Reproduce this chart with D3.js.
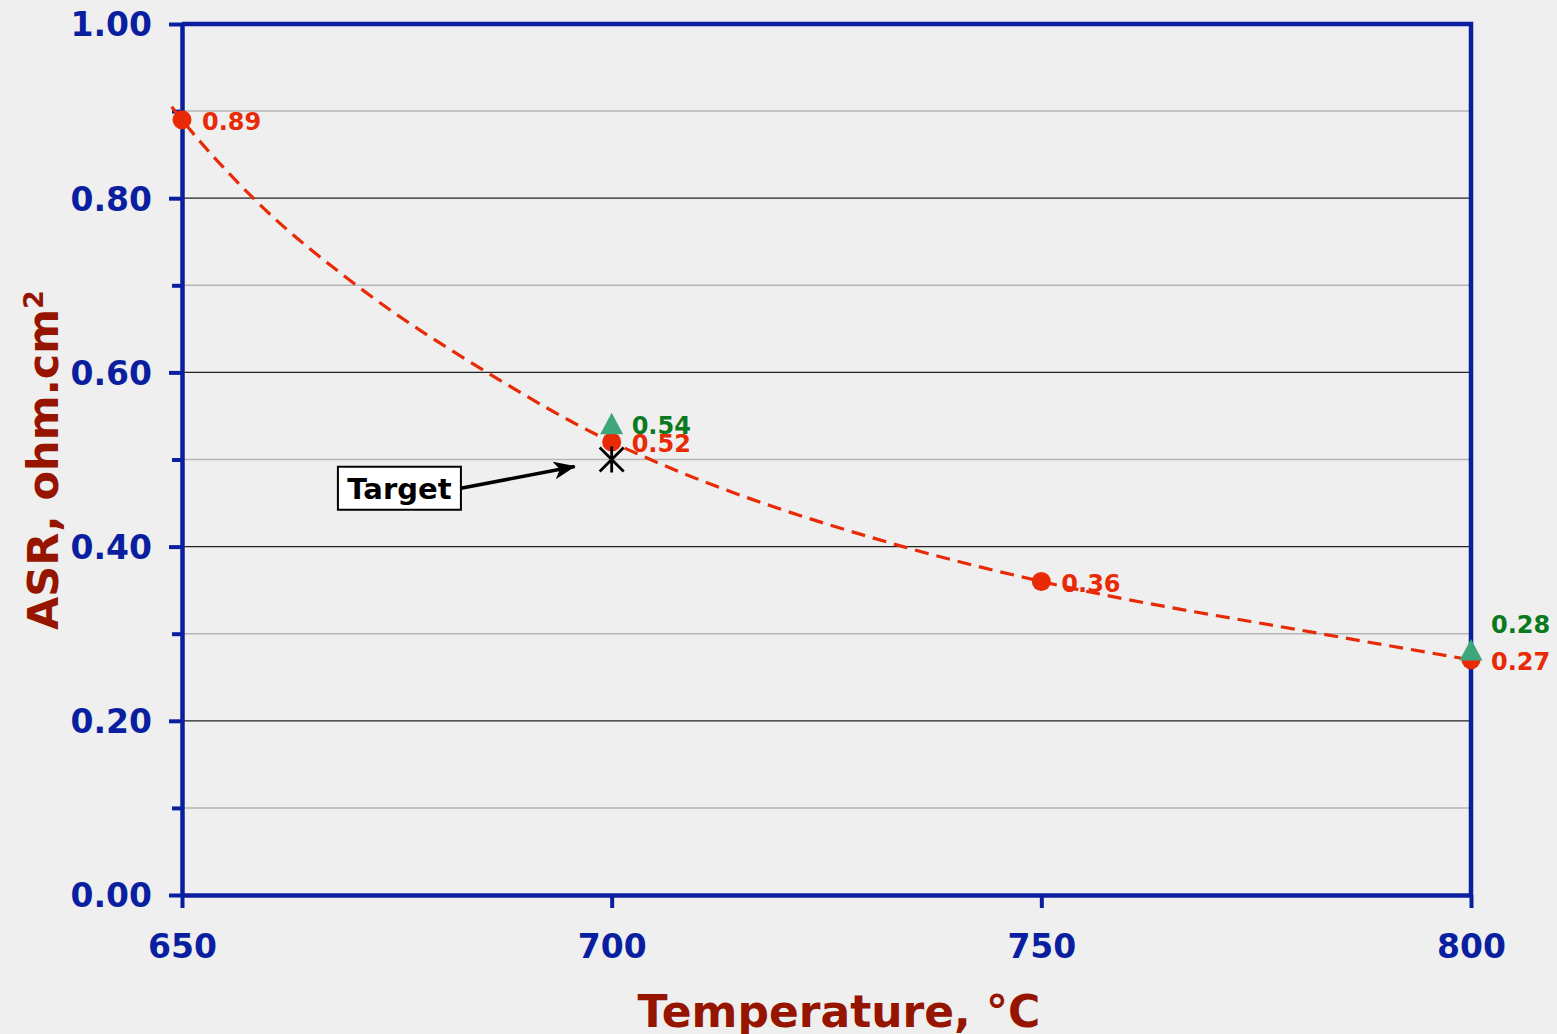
<!DOCTYPE html>
<html>
<head>
<meta charset="utf-8">
<script src="https://cdn.jsdelivr.net/npm/d3@7"></script>
<style>
  html, body { margin: 0; padding: 0; background: #efefef; }
  svg { display: block; font-family: "DejaVu Sans", Verdana, sans-serif; font-weight: bold; }
</style>
</head>
<body>
<svg id="chart" width="1557" height="1034"></svg>
<script>
// Measured cell ASR versus operating temperature
const temperatures = [650, 700, 750, 800];
const asrCell = [0.89, 0.52, 0.36, 0.27];

// Second data set (triangles)
const temperaturesAlt = [700, 800];
const asrAlt = [0.54, 0.28];

// Target value
const targetTemp = 700;
const targetAsr = 0.50;

// Fitted trend curve (dashed)
const trendTemps = [648.8, 650, 658.3, 670.3, 685.5, 700, 704.5, 733.9, 750, 782.5, 800];
const trendAsr = [0.905, 0.89, 0.80, 0.70, 0.60, 0.52, 0.50, 0.40, 0.36, 0.30, 0.27];

// Axis ticks
const xTicks = [650, 700, 750, 800];
const yMajorTicks = [0.0, 0.2, 0.4, 0.6, 0.8, 1.0];
const yMinorTicks = [0.1, 0.3, 0.5, 0.7, 0.9];

// Annotation callout, in data units
const targetNote = { text: "Target", labelT: 675.3, labelAsr: 0.467, tipT: 695.7, tipAsr: 0.492 };

const C = {
  axis: "#0a1fa0",
  title: "#961500",
  red: "#e82a06",
  green: "#0b7a1e",
  tri: "#3ea67b",
  majorGrid: "#222",
  minorGrid: "#b4b4b4"
};

const svg = d3.select("#chart");
const plot = { left: 182, right: 1471, top: 24, bottom: 895 };

const x = d3.scaleLinear().domain([650, 800]).range([plot.left, plot.right]);
const y = d3.scaleLinear().domain([0, 1]).range([plot.bottom, plot.top]);

svg.append("rect").attr("width", 1557).attr("height", 1034).attr("fill", "#efefef");

// gridlines
const grid = svg.append("g");
grid.selectAll("line.minor").data(yMinorTicks).join("line")
  .attr("class", "minor")
  .attr("x1", plot.left).attr("x2", plot.right)
  .attr("y1", d => y(d)).attr("y2", d => y(d))
  .attr("stroke", C.minorGrid).attr("stroke-width", 1.5);
grid.selectAll("line.major").data(yMajorTicks.filter(d => d > 0 && d < 1)).join("line")
  .attr("class", "major")
  .attr("x1", plot.left).attr("x2", plot.right)
  .attr("y1", d => y(d)).attr("y2", d => y(d))
  .attr("stroke", C.majorGrid).attr("stroke-width", 1.2);

// axes
const yAxis = svg.append("g").attr("transform", `translate(${plot.left},0)`)
  .call(d3.axisLeft(y).tickValues(yMajorTicks).tickSize(13).tickSizeOuter(0).tickPadding(17)
    .tickFormat(d3.format(".2f")));
yAxis.select(".domain").attr("stroke", C.axis).attr("stroke-width", 4.5);
yAxis.selectAll(".tick line").attr("stroke", C.axis).attr("stroke-width", 4);
yAxis.selectAll(".tick text").attr("fill", C.axis).attr("font-size", 33)
  .attr("font-family", "DejaVu Sans").attr("font-weight", "bold").attr("dy", "0.36em");

const yMinor = svg.append("g").attr("transform", `translate(${plot.left},0)`)
  .call(d3.axisLeft(y).tickValues(yMinorTicks).tickSize(10).tickFormat(""));
yMinor.select(".domain").remove();
yMinor.selectAll(".tick line").attr("stroke", C.axis).attr("stroke-width", 4);

const xAxis = svg.append("g").attr("transform", `translate(0,${plot.bottom})`)
  .call(d3.axisBottom(x).tickValues(xTicks).tickSize(13).tickSizeOuter(0).tickPadding(27)
    .tickFormat(d3.format("d")));
xAxis.select(".domain").attr("stroke", C.axis).attr("stroke-width", 4.5);
xAxis.selectAll(".tick line").attr("stroke", C.axis).attr("stroke-width", 4);
xAxis.selectAll(".tick text").attr("fill", C.axis).attr("font-size", 33)
  .attr("font-family", "DejaVu Sans").attr("font-weight", "bold");

// top and right frame
svg.append("path")
  .attr("d", `M${plot.left},${plot.top}H${plot.right}V${plot.bottom}`)
  .attr("fill", "none").attr("stroke", C.axis).attr("stroke-width", 4.5);

// axis titles
svg.append("text")
  .attr("x", 839).attr("y", 1027)
  .attr("text-anchor", "middle").attr("fill", C.title).attr("font-size", 44)
  .text("Temperature, °C");

const yTitle = svg.append("text")
  .attr("transform", "translate(58,460) rotate(-90)")
  .attr("text-anchor", "middle").attr("fill", C.title).attr("font-size", 43);
yTitle.append("tspan").text("ASR, ohm.cm");
yTitle.append("tspan").attr("baseline-shift", "super").attr("font-size", 27).text("2");

// trend curve
const trendData = trendTemps.map((t, i) => [t, trendAsr[i]]);
svg.append("path")
  .datum(trendData)
  .attr("d", d3.line().x(d => x(d[0])).y(d => y(d[1])).curve(d3.curveMonotoneX))
  .attr("fill", "none").attr("stroke", C.red).attr("stroke-width", 3.2)
  .attr("stroke-dasharray", "14,8");

// measured points
const cell = temperatures.map((t, i) => ({ t, v: asrCell[i] }));
svg.append("g").selectAll("circle").data(cell).join("circle")
  .attr("cx", d => x(d.t)).attr("cy", d => y(d.v)).attr("r", 9.5)
  .attr("fill", C.red);

// second set: triangles
const alt = temperaturesAlt.map((t, i) => ({ t, v: asrAlt[i] }));
svg.append("g").selectAll("path").data(alt).join("path")
  .attr("transform", d => `translate(${x(d.t)},${y(d.v)})`)
  .attr("d", "M0,-12L11.5,9.5L-11.5,9.5Z")
  .attr("fill", C.tri);

// target marker (asterisk)
const tg = svg.append("g").attr("transform", `translate(${x(targetTemp)},${y(targetAsr)})`)
  .attr("stroke", "#000").attr("stroke-width", 2.8).attr("fill", "none");
tg.append("path").attr("d", "M-12,-12L12,12M-12,12L12,-12M0,-13V13");

// value labels
svg.append("g").selectAll("text").data(cell).join("text")
  .attr("x", d => x(d.t) + 20).attr("y", d => y(d.v) + 1.5)
  .attr("dy", "0.36em").attr("fill", C.red).attr("font-size", 24)
  .text(d => d3.format(".2f")(d.v));

svg.append("g").selectAll("text").data(alt).join("text")
  .attr("x", d => x(d.t) + 20)
  .attr("y", d => y(d.v) + (d.t === 800 ? -27 : 1))
  .attr("dy", "0.36em").attr("fill", C.green).attr("font-size", 24)
  .text(d => d3.format(".2f")(d.v));

// "Target" callout
const defs = svg.append("defs");
defs.append("marker")
  .attr("id", "arrowhead").attr("viewBox", "0 -9 22 18")
  .attr("refX", 21).attr("refY", 0)
  .attr("markerWidth", 22).attr("markerHeight", 18)
  .attr("markerUnits", "userSpaceOnUse").attr("orient", "auto")
  .append("path").attr("d", "M0,-9L22,0L0,9L6,0Z").attr("fill", "#000");

const lx = x(targetNote.labelT), ly = y(targetNote.labelAsr);
const boxW = 123, boxH = 43;
svg.append("line")
  .attr("x1", lx + boxW / 2).attr("y1", ly)
  .attr("x2", x(targetNote.tipT)).attr("y2", y(targetNote.tipAsr))
  .attr("stroke", "#000").attr("stroke-width", 3.5)
  .attr("marker-end", "url(#arrowhead)");
svg.append("rect")
  .attr("x", lx - boxW / 2).attr("y", ly - boxH / 2)
  .attr("width", boxW).attr("height", boxH)
  .attr("fill", "#fff").attr("stroke", "#000").attr("stroke-width", 2);
svg.append("text")
  .attr("x", lx).attr("y", ly).attr("dy", "0.36em")
  .attr("text-anchor", "middle").attr("fill", "#000").attr("font-size", 29)
  .text(targetNote.text);
</script>
</body>
</html>
